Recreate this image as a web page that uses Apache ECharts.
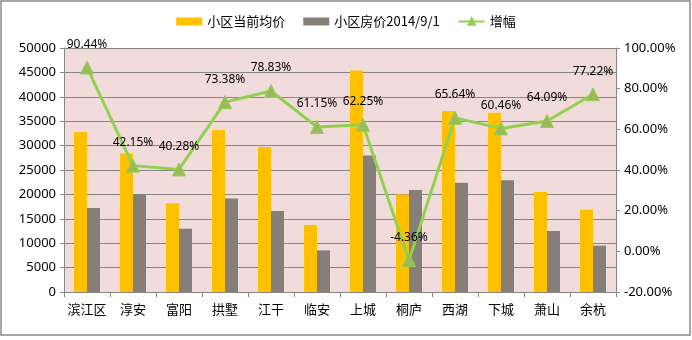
<!DOCTYPE html>
<html><head><meta charset="utf-8">
<script src="https://cdn.jsdelivr.net/npm/echarts@6/dist/echarts.min.js"></script>
<style>html,body{margin:0;padding:0;background:#fff}#c{width:692px;height:340px}</style>
</head><body><div id="c"></div>
<script>
const categories = ['滨江区','淳安','富阳','拱墅','江干','临安','上城','桐庐','西湖','下城','萧山','余杭'];
const currentPrice = [32800, 28400, 18200, 33200, 29700, 13750, 45400, 20000, 37100, 36750, 20500, 16850];
const price20140901 = [17230, 20000, 12980, 19150, 16620, 8530, 27980, 20910, 22400, 22900, 12500, 9500];
const growth = [90.44, 42.15, 40.28, 73.38, 78.83, 61.15, 62.25, -4.36, 65.64, 60.46, 64.09, 77.22];
const seriesNames = ['小区当前均价','小区房价2014/9/1','增幅'];

const font = '"Noto Sans CJK SC", "Noto Sans", sans-serif';
const numFont = '"Noto Sans", sans-serif';
const chart = echarts.init(document.getElementById('c'));
chart.setOption({
  animation: false,
  textStyle: {fontFamily: font},
  graphic: [{type:'rect', shape:{x:1, y:1, width:689, height:334}, style:{fill:'none', stroke:'#8a8a8a', lineWidth:1.5}}],
  legend: {
    top: 10, left: 'center', itemWidth: 26, itemHeight: 8, itemGap: 18,
    textStyle: {fontSize: 13, color: '#000', fontFamily: font},
    data: [
      {name: seriesNames[0], icon: 'rect'},
      {name: seriesNames[1], icon: 'rect'},
      {name: seriesNames[2]}
    ]
  },
  grid: {left: 64, right: 76, top: 48, bottom: 48, show: true, backgroundColor: '#F2DCDB', borderWidth: 0},
  xAxis: {
    type: 'category', data: categories,
    axisLine: {lineStyle: {color: '#868686', width: 1}},
    axisTick: {show: true, inside: false, length: 5, interval: 0, alignWithLabel: false, lineStyle: {color: '#868686'}},
    axisLabel: {color: '#000', fontSize: 13, margin: 11, interval: 0, fontFamily: font}
  },
  yAxis: [
    {type: 'value', min: 0, max: 50000, interval: 5000,
     axisLine: {show: true, lineStyle: {color: '#868686'}},
     axisTick: {show: true, length: 4, lineStyle: {color: '#868686'}},
     splitLine: {lineStyle: {color: '#868686', width: 1}},
     axisLabel: {color: '#000', fontSize: 13, margin: 8, fontFamily: numFont, formatter: v => String(v)}},
    {type: 'value', min: -20, max: 100, interval: 20,
     axisLine: {show: true, lineStyle: {color: '#868686'}},
     axisTick: {show: true, length: 4, lineStyle: {color: '#868686'}},
     splitLine: {show: false},
     axisLabel: {color: '#000', fontSize: 13, margin: 8, fontFamily: numFont,
       formatter: v => v.toFixed(2) + '%'}}
  ],
  series: [
    {name: seriesNames[0], type: 'bar', data: currentPrice, barWidth: 13, barGap: '0%',
     itemStyle: {color: '#FFC000'}},
    {name: seriesNames[1], type: 'bar', data: price20140901, barWidth: 13,
     itemStyle: {color: '#857F77'}},
    {name: seriesNames[2], type: 'line', yAxisIndex: 1, data: growth,
     symbol: 'triangle', symbolSize: 13,
     lineStyle: {color: '#92D050', width: 3},
     itemStyle: {color: '#9BBB59', borderColor: '#92D050', borderWidth: 1},
     label: {show: true, position: 'top', distance: 10, color: '#000', fontSize: 12,
       fontFamily: numFont, formatter: p => p.value.toFixed(2) + '%'}}
  ]
});
</script></body></html>
